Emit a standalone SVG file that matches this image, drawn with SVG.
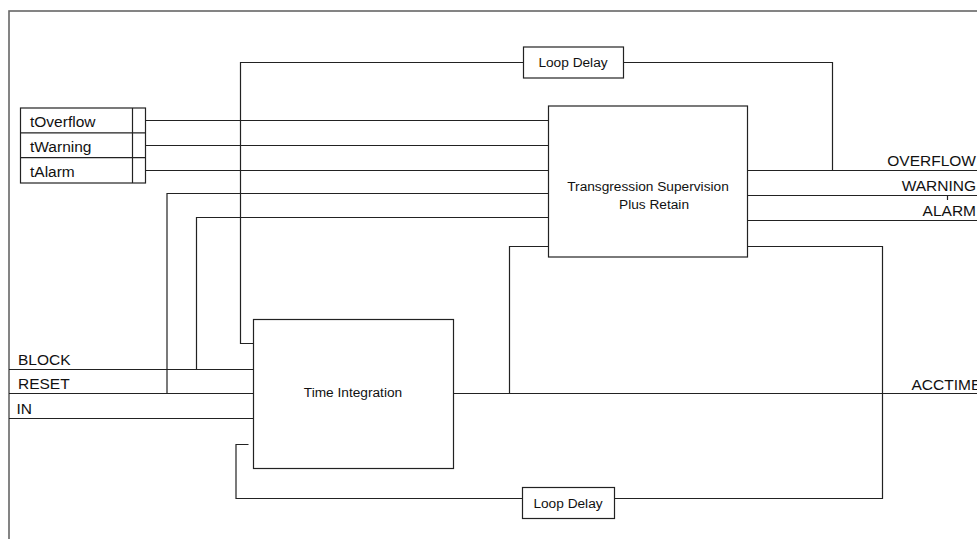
<svg xmlns="http://www.w3.org/2000/svg" width="977" height="539" viewBox="0 0 977 539">
<style>
.box{fill:#fff;stroke:#222;stroke-width:1.2}
.w{fill:none;stroke:#222;stroke-width:1.2}
.t{font-family:"Liberation Sans",Arial,sans-serif;font-size:15.5px;fill:#111}
.s{font-family:"Liberation Sans",Arial,sans-serif;font-size:13.7px;fill:#111}
</style>
<rect width="977" height="539" fill="#fff"/>
<rect x="9" y="11" width="1000" height="600" fill="none" stroke="#666" stroke-width="1.6"/>
<g id="connectors">
<path class="w" d="M145 120.5H548"/>
<path class="w" d="M145 145.5H548"/>
<path class="w" d="M145 170.5H548"/>
<path class="w" d="M9 369.5H253"/>
<path class="w" d="M196.5 369.5V217.5H548"/>
<path class="w" d="M9 393.5H253"/>
<path class="w" d="M167 393.5V193.5H548"/>
<path class="w" d="M9 418.5H253"/>
<path class="w" d="M453 393.5H977"/>
<path class="w" d="M509.5 393.5V246.5H548"/>
<path class="w" d="M748 170.5H977"/>
<path class="w" d="M748 195.5H977"/>
<path class="w" d="M947.5 195.5V200"/>
<path class="w" d="M748 220.5H977"/>
<path class="w" d="M748 246.5H882.5V498.5H614"/>
<path class="w" d="M522 498.5H236V444.5H248.5"/>
<path class="w" d="M748 170.5H832.5V62.5H623"/>
<path class="w" d="M523 62.5H240.5V343.5H253"/>
</g>
<g id="param-table">
<rect class="box" x="20.5" y="108" width="125" height="75"/>
<path class="w" d="M20.5 132.8H145.5M20.5 157.7H145.5M132.5 108V183"/>
<text class="t" x="30" y="127">tOverflow</text>
<text class="t" x="30" y="152">tWarning</text>
<text class="t" x="30" y="177">tAlarm</text>
</g>
<g id="transgression">
<rect class="box" x="548.5" y="106" width="199" height="151"/>
<text class="s" x="648" y="191" text-anchor="middle">Transgression Supervision</text>
<text class="s" x="654" y="209" text-anchor="middle">Plus Retain</text>
</g>
<g id="time-integration">
<rect class="box" x="253.5" y="319.5" width="200" height="149"/>
<text class="s" x="353" y="397" text-anchor="middle">Time Integration</text>
</g>
<g id="loop-delay-top">
<rect class="box" x="523.5" y="47" width="100" height="31"/>
<text class="s" x="573" y="67" text-anchor="middle">Loop Delay</text>
</g>
<g id="loop-delay-bottom">
<rect class="box" x="522.5" y="487.5" width="92" height="31"/>
<text class="s" x="568" y="507.5" text-anchor="middle">Loop Delay</text>
</g>
<g id="labels">
<text class="t" x="18" y="364.5">BLOCK</text>
<text class="t" x="18" y="389">RESET</text>
<text class="t" x="16.5" y="413.5">IN</text>
<text class="t" x="976" y="166" text-anchor="end">OVERFLOW</text>
<text class="t" x="976" y="190.5" text-anchor="end">WARNING</text>
<text class="t" x="976" y="215.5" text-anchor="end">ALARM</text>
<text class="t" x="911.5" y="390">ACCTIME</text>
</g>
</svg>
